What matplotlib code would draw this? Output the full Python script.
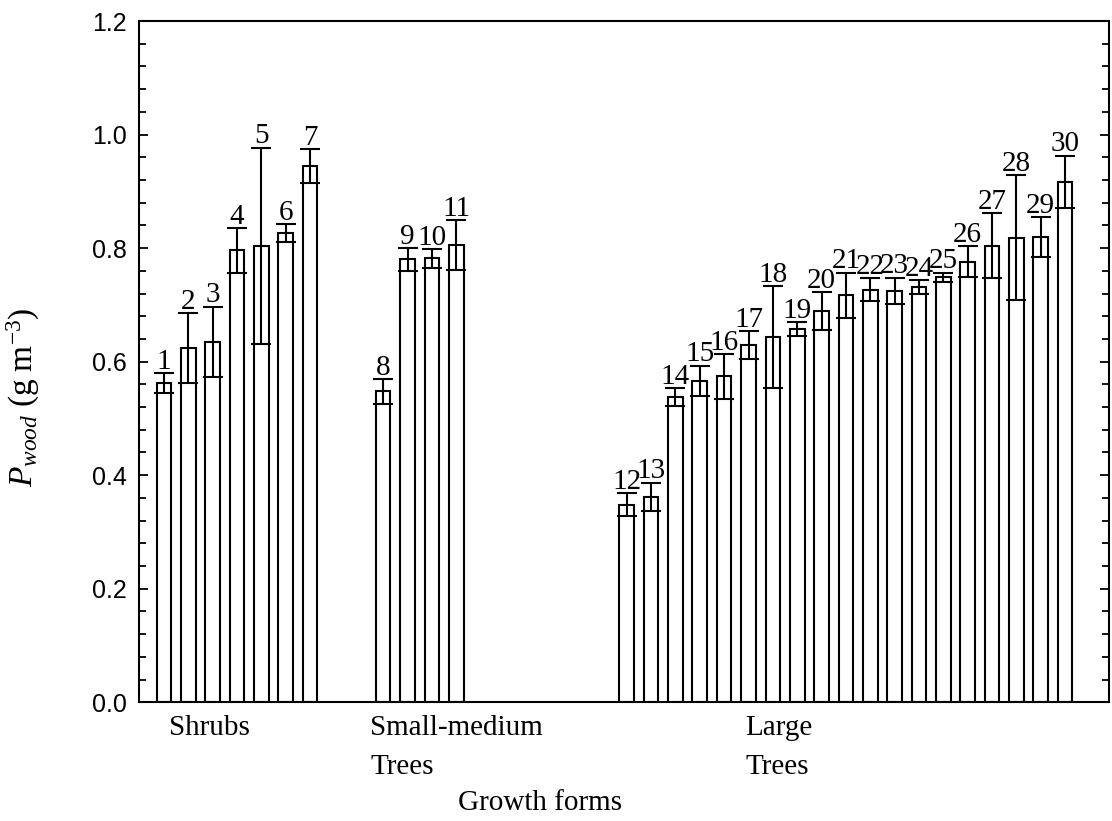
import numpy as np
import matplotlib
matplotlib.use('Agg')
import matplotlib.pyplot as plt
from matplotlib.ticker import MultipleLocator

# wood density per species, grouped by growth form
species = list(range(1, 31))
positions = [0, 1, 2, 3, 4, 5, 6,
             9, 10, 11, 12,
             19, 20, 21, 22, 23, 24, 25, 26, 27, 28,
             29, 30, 31, 32, 33, 34, 35, 36, 37]
p_wood = [0.562, 0.624, 0.635, 0.796, 0.804, 0.826, 0.945,
          0.548, 0.780, 0.782, 0.806,
          0.348, 0.362, 0.538, 0.566, 0.574, 0.629, 0.643, 0.657, 0.689,
          0.717, 0.727, 0.725, 0.732, 0.749, 0.776, 0.804, 0.818, 0.820, 0.917]
p_err = [0.018, 0.061, 0.062, 0.040, 0.173, 0.016, 0.030,
         0.022, 0.020, 0.017, 0.044,
         0.020, 0.025, 0.016, 0.027, 0.040, 0.025, 0.090, 0.012, 0.034,
         0.040, 0.020, 0.023, 0.012, 0.008, 0.027, 0.057, 0.110, 0.035, 0.046]

group_lines = [('Shrubs', 1.85, 'center', -0.048),
               ('Small-medium', 8.47, 'left', -0.048),
               ('Trees', 8.47, 'left', -0.105),
               ('Large', 23.87, 'left', -0.048),
               ('Trees', 23.87, 'left', -0.105)]

plt.rcParams['mathtext.fontset'] = 'custom'
plt.rcParams['mathtext.rm'] = 'Liberation Serif'
plt.rcParams['mathtext.it'] = 'Liberation Serif:italic'

SERIF = 'Liberation Serif'
SANS = 'Liberation Sans'

fig = plt.figure(figsize=(11.12, 8.21), dpi=100)
ax = fig.add_axes([0.1253, 0.1446, 0.8720, 0.8298])

ax.bar(positions, p_wood, width=0.6, color='white', edgecolor='black',
       linewidth=1.5, zorder=2)
ax.errorbar(positions, p_wood, yerr=p_err, fmt='none', ecolor='black',
            elinewidth=1.5, capsize=7.5, capthick=1.5, zorder=3)

for x, v, e, n in zip(positions, p_wood, p_err, species):
    ax.annotate(str(n), (x, v + e), xytext=(0, 3), textcoords='offset points',
                ha='center', va='baseline', fontsize=21, family=SERIF)

ax.set_xlim(-1.01, 38.8)
ax.set_ylim(0, 1.2)
ax.yaxis.set_major_locator(MultipleLocator(0.2))
ax.yaxis.set_minor_locator(MultipleLocator(0.04))
ax.yaxis.set_major_formatter(matplotlib.ticker.FormatStrFormatter('%.1f'))
ax.set_xticks([])
ax.tick_params(axis='y', which='both', direction='in', right=True,
               width=1.3, labelsize=18)
ax.tick_params(axis='y', which='major', length=6.5, pad=9)
ax.tick_params(axis='y', which='minor', length=5)
for lab in ax.get_yticklabels():
    lab.set_family(SANS)
for sp in ax.spines.values():
    sp.set_linewidth(1.5)

ax.set_ylabel(r'$P_{wood}\ (\mathrm{g\ m^{-3}})$', fontsize=24)
ax.yaxis.set_label_coords(-0.1, 0.447)

xt = ax.get_xaxis_transform()
for text, x, ha, y in group_lines:
    ax.text(x, y, text, transform=xt, ha=ha, va='baseline',
            fontsize=21, family=SERIF)
ax.text(15.45, -0.158, 'Growth forms', transform=xt, ha='center',
        va='baseline', fontsize=21, family=SERIF)

fig.savefig('out.png', dpi=100)
